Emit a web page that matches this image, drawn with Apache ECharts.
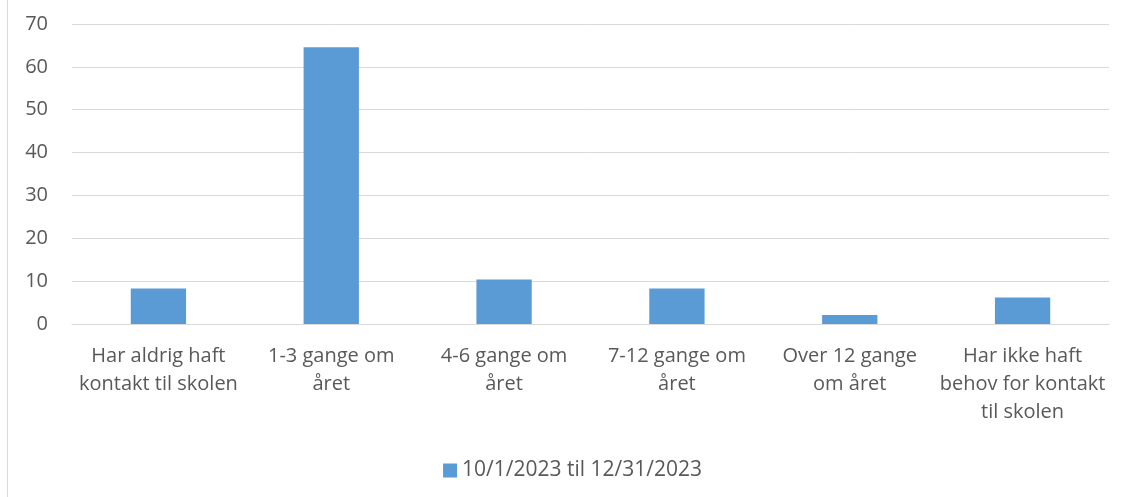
<!DOCTYPE html>
<html>
<head>
<meta charset="utf-8">
<script src="https://cdn.jsdelivr.net/npm/echarts@6/dist/echarts.min.js"></script>
<style>
  html, body { margin: 0; padding: 0; background: #fff; }
  #chart { width: 1145px; height: 497px; }
</style>
</head>
<body>
<div id="chart"></div>
<script>
// kategorier og værdier
const categories = [
  'Har aldrig haft\nkontakt til skolen',
  '1-3 gange om\nåret',
  '4-6 gange om\nåret',
  '7-12 gange om\nåret',
  'Over 12 gange\nom året',
  'Har ikke haft\nbehov for kontakt\ntil skolen'
];
const seriesName = '10/1/2023 til 12/31/2023';
const values = [8.3, 64.6, 10.4, 8.3, 2.1, 6.2];

const textColor = '#595959';
const fontFamily = 'Open Sans, Liberation Sans, sans-serif';

const chart = echarts.init(document.getElementById('chart'));

chart.setOption({
  animation: false,
  textStyle: { fontFamily: fontFamily },
  graphic: [
    // venstre kant af diagramområdet
    { type: 'line', shape: { x1: 7.5, y1: 0, x2: 7.5, y2: 497 }, style: { stroke: '#d9d9d9', lineWidth: 1 } }
  ],
  grid: { left: 72, right: 36, top: 24, bottom: 173, containLabel: false },
  legend: {
    top: 455,
    left: 'center',
    itemWidth: 14,
    itemHeight: 14,
    itemGap: 10,
    icon: 'rect',
    textStyle: { fontSize: 21, color: textColor, fontFamily: fontFamily },
    data: [seriesName]
  },
  xAxis: {
    type: 'category',
    data: categories,
    axisLine: { lineStyle: { color: '#d9d9d9', width: 1 } },
    axisTick: { show: false },
    axisLabel: {
      color: textColor,
      fontSize: 20,
      lineHeight: 28,
      margin: 18,
      interval: 0
    }
  },
  yAxis: {
    type: 'value',
    min: 0,
    max: 70,
    interval: 10,
    axisLine: { show: false },
    axisTick: { show: false },
    splitLine: { lineStyle: { color: '#d9d9d9', width: 1 } },
    axisLabel: { color: textColor, fontSize: 20, margin: 24 }
  },
  series: [{
    name: seriesName,
    type: 'bar',
    data: values,
    barWidth: '32%',
    itemStyle: { color: '#5b9bd5' }
  }]
});
</script>
</body>
</html>
